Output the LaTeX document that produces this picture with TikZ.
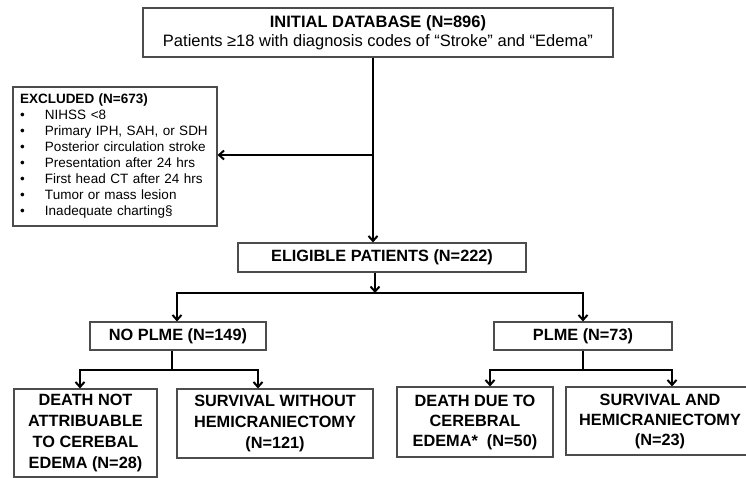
\documentclass[tikz,border=0pt]{standalone}
\usepackage{fontspec}
\setmainfont{Liberation Sans}
\usetikzlibrary{arrows.meta}
\definecolor{boxgray}{gray}{0.3}
\begin{document}
\begin{tikzpicture}[x=1pt,y=-1pt,
  box/.style={draw=boxgray, line width=1.1pt, inner sep=0pt, align=center, text=black,
    font=\bfseries\fontsize{16.3}{21}\selectfont},
  conn/.style={line width=2pt, black, line join=miter},
  arr/.style={conn, -{Straight Barb[length=5pt,width=9pt]}},
]
\useasboundingbox (0,0) rectangle (746,478);
\clip (0,0) rectangle (746,478);

% boxes
\node[box, minimum width=470pt, minimum height=49pt,
  font=\fontsize{16.5}{18.5}\selectfont] (top) at (378,32.5)
  {\textbf{INITIAL DATABASE (N=896)}\\Patients ≥18 with diagnosis codes of “Stroke” and “Edema”};

\node[box, minimum width=204pt, minimum height=139pt, align=left, text width=190pt,
  font=\fontsize{13.5}{16}\selectfont] (excl) at (115,156.5)
  {\textbf{EXCLUDED (N=673)}\\
   \makebox[25pt][l]{•}NIHSS <8\\
   \makebox[25pt][l]{•}Primary IPH, SAH, or SDH\\
   \makebox[25pt][l]{•}Posterior circulation stroke\\
   \makebox[25pt][l]{•}Presentation after 24 hrs\\
   \makebox[25pt][l]{•}First head CT after 24 hrs\\
   \makebox[25pt][l]{•}Tumor or mass lesion\\
   \makebox[25pt][l]{•}Inadequate charting§};

\node[box, minimum width=288pt, minimum height=29pt] (elig) at (382,257.5) {ELIGIBLE PATIENTS (N=222)};
\node[box, minimum width=176pt, minimum height=28pt] (noplme) at (178,336) {NO PLME (N=149)};
\node[box, minimum width=178pt, minimum height=28pt] (plme) at (583,336) {PLME (N=73)};

\node[box, minimum width=143pt, minimum height=88pt] (d1) at (85.5,433)
  {DEATH NOT\\ATTRIBUABLE\\TO CEREBAL\\EDEMA (N=28)};
\node[box, minimum width=196pt, minimum height=69pt] (s1) at (275,423.5)
  {SURVIVAL WITHOUT\\HEMICRANIECTOMY\\(N=121)};
\node[box, minimum width=156pt, minimum height=70pt, font=\bfseries\fontsize{16.3}{20}\selectfont] (d2) at (475,422)
  {DEATH DUE TO\\CEREBRAL\\EDEMA*\ \ (N=50)};
\node[box, minimum width=188pt, minimum height=68pt, font=\bfseries\fontsize{16.3}{20}\selectfont] (s2) at (660,421)
  {SURVIVAL AND\\HEMICRANIECTOMY\\(N=23)};

% coordinates
\coordinate (br1) at (373,155);
\coordinate (sp) at (375,293);
\coordinate (spL) at (177,293);
\coordinate (spR) at (583,293);
\coordinate (bl) at (172,370);
\coordinate (blL) at (80,370);
\coordinate (blR) at (258,370);
\coordinate (brm) at (583,370);
\coordinate (brL) at (490,370);
\coordinate (brR) at (672,370);

% connectors
\draw[arr] (top.south -| br1) -- (elig.north -| br1);
\draw[arr] (br1) -- (excl.east |- br1);
\draw[arr] (elig.south -| sp) -- (sp);
\draw[arr] (sp) -- (spL) -- (noplme.north -| spL);
\draw[arr] (sp) -- (spR) -- (plme.north -| spR);

\draw[conn] (noplme.south -| bl) -- (bl);
\draw[arr] (bl) -- (blL) -- (d1.north -| blL);
\draw[arr] (bl) -- (blR) -- (s1.north -| blR);

\draw[conn] (plme.south -| brm) -- (brm);
\draw[arr] (brm) -- (brL) -- (d2.north -| brL);
\draw[arr] (brm) -- (brR) -- (s2.north -| brR);
\end{tikzpicture}
\end{document}
